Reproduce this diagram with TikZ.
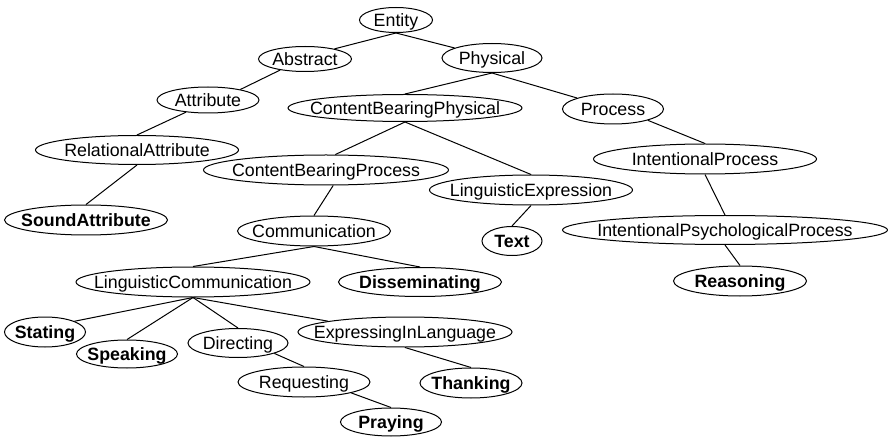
\documentclass[tikz,border=0pt]{standalone}
\usepackage{fontspec}
\setmainfont{Liberation Sans}
\usetikzlibrary{shapes.geometric}
\tikzset{
  cls/.style={ellipse, draw, fill=white, line width=1pt, inner sep=0pt,
    text height=12.7pt, text depth=0pt, font=\fontsize{17.8}{20}\selectfont},
  leaf/.style={cls, font=\fontsize{17.8}{20}\selectfont\bfseries},
  link/.style={line width=1pt}
}
\newcommand{\lbl}[1]{\makebox[0pt]{#1}}
\begin{document}
\begin{tikzpicture}[x=1pt,y=1pt]
\useasboundingbox (0,0) rectangle (888,-438);
% nodes
\node[cls, minimum width=73pt, minimum height=25pt] (entity) at (396,-20) {\lbl{Entity}};
\node[cls, minimum width=93pt, minimum height=25pt] (abstract) at (305,-59) {\lbl{Abstract}};
\node[cls, minimum width=100pt, minimum height=29pt] (physical) at (492,-58) {\lbl{Physical}};
\node[cls, minimum width=102pt, minimum height=26pt] (attribute) at (208,-100) {\lbl{Attribute}};
\node[cls, minimum width=234pt, minimum height=27pt] (cbp) at (405,-108) {\lbl{ContentBearingPhysical}};
\node[cls, minimum width=101pt, minimum height=30pt] (process) at (613,-109) {\lbl{Process}};
\node[cls, minimum width=203pt, minimum height=29pt] (relattr) at (137,-150) {\lbl{RelationalAttribute}};
\node[cls, minimum width=245pt, minimum height=30pt] (cbproc) at (326,-170) {\lbl{ContentBearingProcess}};
\node[cls, minimum width=223pt, minimum height=30pt] (intproc) at (705,-159) {\lbl{IntentionalProcess}};
\node[cls, minimum width=203pt, minimum height=30pt] (lingexpr) at (531,-190) {\lbl{LinguisticExpression}};
\node[leaf, minimum width=163pt, minimum height=30pt] (sound) at (86,-220) {\lbl{SoundAttribute}};
\node[leaf, minimum width=60pt, minimum height=29pt] (text) at (512,-241) {\lbl{Text}};
\node[cls, minimum width=153pt, minimum height=30pt] (comm) at (314,-231) {\lbl{Communication}};
\node[cls, minimum width=325pt, minimum height=29pt] (ipp) at (725,-230) {\lbl{IntentionalPsychologicalProcess}};
\node[cls, minimum width=234pt, minimum height=30pt] (lingcomm) at (193,-282) {\lbl{LinguisticCommunication}};
\node[leaf, minimum width=163pt, minimum height=29pt] (dissem) at (420,-282) {\lbl{Disseminating}};
\node[leaf, minimum width=133pt, minimum height=30pt] (reason) at (740,-281) {\lbl{Reasoning}};
\node[leaf, minimum width=81pt, minimum height=30pt] (stating) at (45,-332) {\lbl{Stating}};
\node[cls, minimum width=214pt, minimum height=30pt] (eil) at (405,-332) {\lbl{ExpressingInLanguage}};
\node[cls, minimum width=100pt, minimum height=29pt] (directing) at (238,-343) {\lbl{Directing}};
\node[leaf, minimum width=101pt, minimum height=28pt] (speaking) at (127,-354) {\lbl{Speaking}};
\node[cls, minimum width=132pt, minimum height=30pt] (requesting) at (304,-382) {\lbl{Requesting}};
\node[leaf, minimum width=102pt, minimum height=30pt] (thanking) at (471,-383) {\lbl{Thanking}};
\node[leaf, minimum width=101pt, minimum height=28pt] (praying) at (391,-422) {\lbl{Praying}};
% edges
\draw[link] (entity.south) -- (abstract.19);
\draw[link] (entity.south) -- (physical.165);
\draw[link] (abstract.204) -- (attribute.18);
\draw[link] (attribute.209) -- (relattr.north);
\draw[link] (relattr.south) -- (sound.north);
\draw[link] (physical.south) -- (cbp.north);
\draw[link] (physical.south) -- (process.163);
\draw[link] (cbp.south) -- (cbproc.59);
\draw[link] (cbp.south) -- (lingexpr.north);
\draw[link] (process.342) -- (intproc.north);
\draw[link] (intproc.south) -- (ipp.north);
\draw[link] (ipp.south) -- (reason.north);
\draw[link] (cbproc.295) -- (comm.north);
\draw[link] (lingexpr.south) -- (text.north);
\draw[link] (comm.south) -- (lingcomm.north);
\draw[link] (comm.south) -- (dissem.north);
\draw[link] (lingcomm.south) -- (stating.20);
\draw[link] (lingcomm.south) -- (speaking.north);
\draw[link] (lingcomm.south) -- (directing.north);
\draw[link] (lingcomm.south) -- (eil.172);
\draw[link] (directing.344) -- (requesting.north);
\draw[link] (eil.south) -- (thanking.north);
\draw[link] (requesting.347) -- (praying.north);
\end{tikzpicture}
\end{document}
